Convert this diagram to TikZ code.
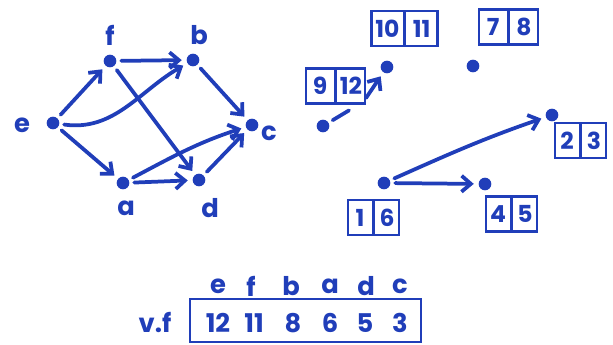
\documentclass[tikz,border=0pt]{standalone}
\usepackage{fontspec}
\setmainfont{Poppins}
\usetikzlibrary{arrows.meta,shapes.multipart}
\definecolor{MarkerBlue}{RGB}{32,62,185}

\begin{document}
\begin{tikzpicture}[
    x=0.03cm,
    y=-0.03cm,
    >={Straight Barb[length=2.8mm,width=4.8mm]},
    vertex/.style={
        circle,
        fill=MarkerBlue,
        inner sep=0pt,
        minimum size=0.38cm
    },
    tag/.style={
        text=MarkerBlue,
        font=\fontsize{22}{24}\selectfont\bfseries
    },
    timebox/.style={
        draw=MarkerBlue,
        line width=2.2pt,
        text=MarkerBlue,
        rectangle split,
        rectangle split horizontal,
        rectangle split parts=2,
        font=\fontsize{20}{22}\selectfont\bfseries,
        text width=0.66cm,
        align=center,
        inner xsep=1pt,
        inner ysep=7.5pt
    },
    link/.style={
        ->,
        draw=MarkerBlue,
        line width=3.2pt,
        line cap=round,
        shorten >=4pt,
        shorten <=4pt
    }
]
\useasboundingbox (0,0) rectangle (613,345);

% graph
\node[vertex] (e) at (53,123) {};
\node[vertex] (f) at (110,61) {};
\node[vertex] (b) at (193,60) {};
\node[vertex] (c) at (252,125) {};
\node[vertex] (a) at (123,183) {};
\node[vertex] (d) at (199,180) {};

\node[tag] (le) at (22,125) {e};
\node[tag] (lf) at (110,35) {f};
\node[tag] (lb) at (199,35) {b};
\node[tag] (lc) at (269,133) {c};
\node[tag] (la) at (126,208) {a};
\node[tag] (ld) at (210,208) {d};

\draw[link] (e) -- (f);
\draw[link] (e) to[out=-8,in=210] (b);
\draw[link] (e) -- (a);
\draw[link] (f) -- (b);
\draw[link] (f) -- (d);
\draw[link] (b) -- (c);
\draw[link] (a) to[out=28,in=198] (c);
\draw[link] (a) -- (d);
\draw[link] (d) -- (c);

% forest with times
\node[vertex] (p912)  at (323,126) {};
\node[vertex] (p1011) at (387,67) {};
\node[vertex] (p78)   at (473,66) {};
\node[vertex] (p23)   at (552,115) {};
\node[vertex] (p16)   at (384,183) {};
\node[vertex] (p45)   at (485,184) {};

\node[timebox, text width=0.78cm] (t912)  at (335.5,86)  {9\nodepart{two}12};
\node[timebox, text width=0.88cm] (t1011) at (404.5,28.5) {10\nodepart{two}11};
\node[timebox, text width=0.78cm] (t78)   at (508.5,27)  {7\nodepart{two}8};
\node[timebox] (t23)   at (580.5,140.5) {2\nodepart{two}3};
\node[timebox] (t16)   at (373.5,217.5) {1\nodepart{two}6};
\node[timebox] (t45)   at (511.5,214) {4\nodepart{two}5};

\coordinate (k1) at (353,108);
\coordinate (k2) at (366,98);
\draw[link, -] (p912) -- (k1);
\draw[link, shorten <=0pt] (k2) -- (p1011);
\draw[link] (p16) -- (p45);
\draw[link] (p16) to[out=24,in=199] (p23);

% finishing times
\node[draw=MarkerBlue, line width=2.2pt, minimum width=6.93cm, minimum height=1.29cm] (arr) at (305.5,320.5) {};
\node[tag] (vf) at (155,322) {v.f};

\node[tag] (ae) at (218,286) {e};
\node[tag] (af) at (251,286) {f};
\node[tag] (ab) at (291,286) {b};
\node[tag] (aa) at (330,286) {a};
\node[tag] (ad) at (366,286) {d};
\node[tag] (ac) at (400,286) {c};

\node[tag] (n12) at (218,323) {12};
\node[tag] (n11) at (254,323) {11};
\node[tag] (n8)  at (293,323) {8};
\node[tag] (n6)  at (330,323) {6};
\node[tag] (n5)  at (365,323) {5};
\node[tag] (n3)  at (400,323) {3};

\end{tikzpicture}
\end{document}
